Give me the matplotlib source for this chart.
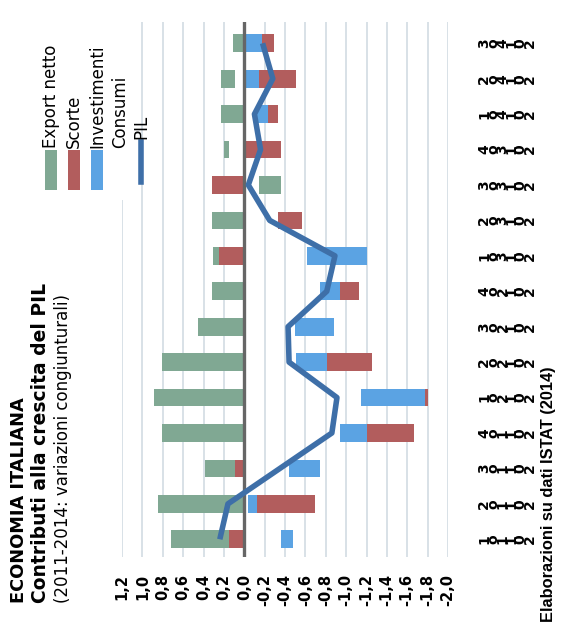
import numpy as np
import matplotlib
matplotlib.use("Agg")
import matplotlib.pyplot as plt
from matplotlib.patches import Rectangle
from matplotlib.lines import Line2D

# quarters 2011-2014 (bottom to top in the rotated picture)
quarters = [1, 2, 3, 4, 1, 2, 3, 4, 1, 2, 3, 4, 1, 2, 3]
years = [2011, 2011, 2011, 2011, 2012, 2012, 2012, 2012,
         2013, 2013, 2013, 2013, 2014, 2014, 2014]

export_netto = [0.57, 0.85, 0.30, 0.81, 0.89, 0.81, 0.45, 0.32, 0.06, 0.32, -0.22, 0.05, 0.23, 0.14, 0.11]
scorte = [0.15, -0.56, 0.09, -0.47, -0.03, -0.44, 0.00, -0.19, 0.25, -0.24, 0.32, -0.34, -0.10, -0.37, -0.12]
investimenti = [-0.12, -0.09, -0.30, -0.26, -0.62, -0.30, -0.38, -0.20, -0.58, 0.00, 0.00, -0.02, -0.10, -0.14, -0.17]
consumi = [-0.36, -0.04, -0.44, -0.94, -1.15, -0.51, -0.50, -0.74, -0.62, -0.33, -0.14, 0.15, -0.13, 0.09, 0.00]
pil = [0.24, 0.16, -0.35, -0.86, -0.91, -0.44, -0.43, -0.81, -0.89, -0.25, -0.04, -0.16, -0.10, -0.28, -0.18]

value_ticks = [1.2, 1.0, 0.8, 0.6, 0.4, 0.2, 0.0, -0.2, -0.4, -0.6, -0.8,
               -1.0, -1.2, -1.4, -1.6, -1.8, -2.0]
value_tick_labels = ["1,2", "1,0", "0,8", "0,6", "0,4", "0,2", "0,0", "-0,2", "-0,4",
                     "-0,6", "-0,8", "-1,0", "-1,2", "-1,4", "-1,6", "-1,8", "-2,0"]

GREEN = "#80a893"
RED = "#b25d5d"
BLUE = "#5ba3e3"
LINE = "#3e6fa8"

W, H = 567, 638
fig = plt.figure(figsize=(W / 100, H / 100), dpi=100)
ax = fig.add_axes([122 / W, (H - 557) / H, 326 / W, 535 / H])

y = np.arange(len(quarters))
series = [(consumi, "none"), (investimenti, BLUE), (scorte, RED), (export_netto, GREEN)]
pos = np.zeros(len(y))
neg = np.zeros(len(y))
for vals, col in series:
    v = np.array(vals)
    left = np.where(v >= 0, pos, neg)
    ax.barh(y, v, left=left, height=0.5, color=col, edgecolor="none", zorder=2)
    pos = pos + np.clip(v, 0, None)
    neg = neg + np.clip(v, None, 0)

ax.axvline(0, color="#666666", lw=2.4, zorder=2.5)
ax.plot(pil, y, color=LINE, lw=4, solid_joinstyle="round", solid_capstyle="butt", zorder=3)

ax.set_xlim(1.2, -2.0)
ax.set_ylim(-0.5, 14.6)
ax.set_xticks(value_ticks, value_tick_labels, rotation=90, fontsize=10.5, fontweight="bold")
ax.grid(axis="x", color="#d6dee5", lw=1.3, zorder=0)
ax.set_axisbelow(True)
for s in ax.spines.values():
    s.set_visible(False)
ax.tick_params(axis="x", length=0, pad=12)

cat_labels = ["\n".join([str(q), "o"] + list(str(yr))[::-1]) for q, yr in zip(quarters, years)]
ax.yaxis.tick_right()
ax.set_yticks(y, cat_labels, rotation=90, fontsize=10, fontweight="bold", linespacing=0.56)
ax.tick_params(axis="y", length=0, pad=21)
for lab in ax.get_yticklabels():
    lab.set_va("center")
    lab.set_multialignment("center")

# titles (rotated like the scanned page)
fig.text(19 / W, (H - 603) / H, "ECONOMIA ITALIANA", rotation=90, ha="center", va="bottom",
         fontsize=12.8, fontweight="bold")
fig.text(41 / W, (H - 603) / H, "Contributi alla crescita del PIL", rotation=90, ha="center",
         va="bottom", fontsize=13.5, fontweight="bold")
fig.text(63 / W, (H - 603) / H, "(2011-2014: variazioni congiunturali)", rotation=90,
         ha="center", va="bottom", fontsize=12)
fig.text(548 / W, (H - 622) / H, "Elaborazioni su dati ISTAT (2014)", rotation=90,
         ha="center", va="bottom", fontsize=11.8, fontweight="bold", family="Liberation Sans")

# legend, rotated
fig.patches.append(Rectangle((0, (H - 200) / H), 132 / W, 192 / H, transform=fig.transFigure,
                             facecolor="white", edgecolor="none", zorder=1))
legend_items = [("Export netto", GREEN), ("Scorte", RED), ("Investimenti", BLUE), ("Consumi", "none")]
for i, (name, col) in enumerate(legend_items):
    xc = 51 + i * 23
    fig.patches.append(Rectangle(((xc - 6) / W, (H - 190) / H), 12 / W, 40 / H,
                                 transform=fig.transFigure, facecolor=col, edgecolor="none", zorder=2))
    fig.text(xc / W, (H - 148) / H, name, rotation=90, ha="center", va="bottom",
             fontsize=12, zorder=3)
fig.lines.append(Line2D([141 / W, 141 / W], [(H - 182) / H, (H - 142) / H], transform=fig.transFigure,
                        color=LINE, lw=4, zorder=3))
fig.text(141 / W, (H - 139) / H, "PIL", rotation=90, ha="center", va="bottom",
         fontsize=12, zorder=3)

fig.savefig("out.png", dpi=100)
